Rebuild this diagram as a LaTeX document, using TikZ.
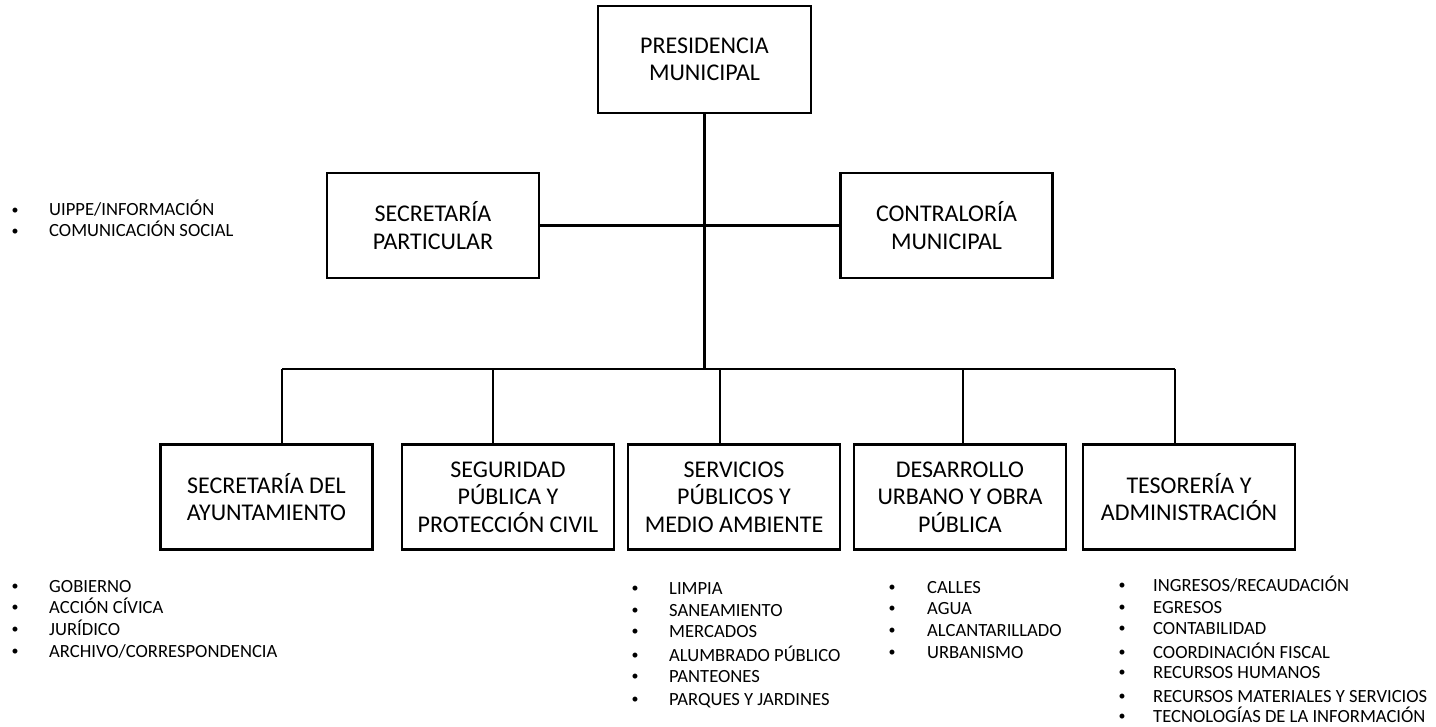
\documentclass[tikz,border=0pt]{standalone}
\usepackage{fontspec}
\setmainfont{Carlito}
\begin{document}
\begin{tikzpicture}[x=1pt,y=-1pt,
  box/.style={draw, line width=2.2pt, minimum width=212pt, minimum height=105pt, align=center, inner sep=0pt, font=\fontsize{24}{27.5}\selectfont},
  conn/.style={line width=2.2pt},
  itm/.style={anchor=base west, inner sep=0pt, font=\fontsize{18.6}{22}\selectfont},
  bul/.style={anchor=base, inner sep=0pt, yshift=1.8pt, font=\fontsize{14}{16}\selectfont}]
\useasboundingbox (0,0) rectangle (1436,727);
% boxes
\node[box, minimum width=213pt, minimum height=107pt] (pres) at (704.5,59.5) {PRESIDENCIA\\MUNICIPAL};
\node[box] (spart) at (433,225.5) {SECRETARÍA\\PARTICULAR};
\node[box] (contra) at (946.5,225.5) {CONTRALORÍA\\MUNICIPAL};
\node[box] (b1) at (266.5,497) {SECRETARÍA DEL\\AYUNTAMIENTO};
\node[box] (b2) at (508,497) {SEGURIDAD\\PÚBLICA Y\\PROTECCIÓN CIVIL};
\node[box] (b3) at (734,497) {SERVICIOS\\PÚBLICOS Y\\MEDIO AMBIENTE};
\node[box] (b4) at (960,497) {DESARROLLO\\URBANO Y OBRA\\PÚBLICA};
\node[box] (b5) at (1189,497) {TESORERÍA Y\\ADMINISTRACIÓN};
% connectors
\coordinate (bus) at (704.5,369);
\coordinate (d1) at (282,369);
\coordinate (d2) at (493,369);
\coordinate (d3) at (720,369);
\coordinate (d4) at (963,369);
\coordinate (d5) at (1175,369);
\draw[conn] (pres.south) -- (bus);
\draw[conn] (spart.east) -- (contra.west);
\draw[conn] (d1) -- (d5);
\draw[conn] (d1) -- (d1 |- b1.north);
\draw[conn] (d2) -- (d2 |- b2.north);
\draw[conn] (d3) -- (d3 |- b3.north);
\draw[conn] (d4) -- (d4 |- b4.north);
\draw[conn] (d5) -- (d5 |- b5.north);
% lists
\foreach \y/\t [count=\i] in {216/{UIPPE/INFORMACIÓN}, 237/{COMUNICACIÓN SOCIAL}}{
  \node[bul] (ba\i) at (15,\y) {•};
  \node[itm] (ta\i) at (49,\y) {\t};}
\foreach \y/\t [count=\i] in {592/{GOBIERNO}, 613/{ACCIÓN CÍVICA}, 635/{JURÍDICO}, 657/{ARCHIVO/CORRESPONDENCIA}}{
  \node[bul] (bb\i) at (15,\y) {•};
  \node[itm] (tb\i) at (49,\y) {\t};}
\foreach \y/\t [count=\i] in {594/{LIMPIA}, 616/{SANEAMIENTO}, 637/{MERCADOS}, 661/{ALUMBRADO PÚBLICO}, 682/{PANTEONES}, 705/{PARQUES Y JARDINES}}{
  \node[bul] (bc\i) at (635,\y) {•};
  \node[itm] (tc\i) at (669,\y) {\t};}
\foreach \y/\t [count=\i] in {593/{CALLES}, 614/{AGUA}, 636/{ALCANTARILLADO}, 658/{URBANISMO}}{
  \node[bul] (bd\i) at (892,\y) {•};
  \node[itm] (td\i) at (927,\y) {\t};}
\foreach \y/\t [count=\i] in {591/{INGRESOS/RECAUDACIÓN}, 613/{EGRESOS}, 634/{CONTABILIDAD}, 658/{COORDINACIÓN FISCAL}, 678/{RECURSOS HUMANOS}, 702/{RECURSOS MATERIALES Y SERVICIOS}, 722/{TECNOLOGÍAS DE LA INFORMACIÓN}}{
  \node[bul] (be\i) at (1122,\y) {•};
  \node[itm] (te\i) at (1153,\y) {\t};}
\end{tikzpicture}
\end{document}
